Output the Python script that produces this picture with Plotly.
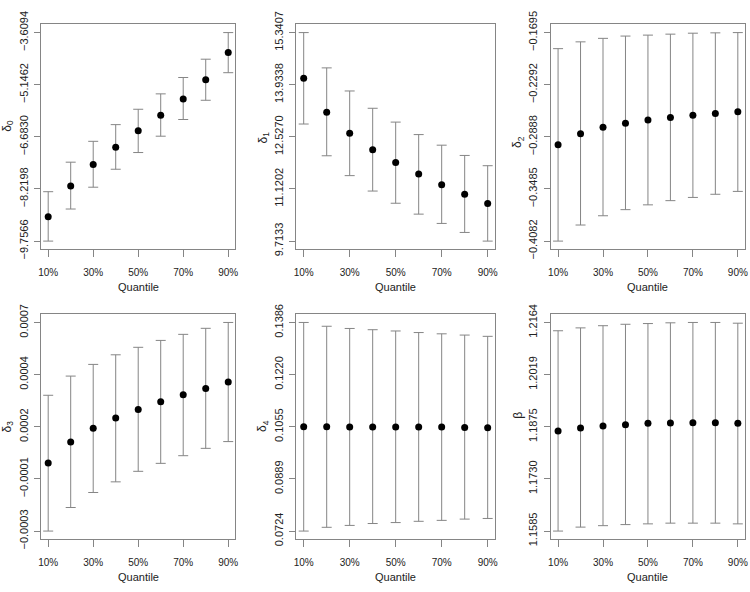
import numpy as np
import plotly.graph_objects as go

quantile_x = [0.1, 0.2, 0.3, 0.4, 0.5, 0.6, 0.7, 0.8, 0.9]
quantile_tick_x = [0.1, 0.3, 0.5, 0.7, 0.9]
quantile_tick_labels = ["10%", "30%", "50%", "70%", "90%"]

d0_est = [-9.038, -8.130, -7.496, -6.986, -6.503, -6.049, -5.567, -4.999, -4.196]
d0_lo = [-9.7566, -8.811, -8.168, -7.638, -7.146, -6.664, -6.172, -5.605, -4.792]
d0_hi = [-8.300, -7.430, -6.815, -6.323, -5.870, -5.416, -4.933, -4.394, -3.6094]
d0_ticks = ["−9.7566", "−8.2198", "−6.6830", "−5.1462", "−3.6094"]

d1_est = [14.111, 13.194, 12.622, 12.181, 11.835, 11.523, 11.237, 10.977, 10.727]
d1_lo = [12.873, 12.016, 11.480, 11.064, 10.735, 10.441, 10.190, 9.947, 9.7133]
d1_hi = [15.3407, 14.388, 13.765, 13.298, 12.925, 12.588, 12.302, 12.025, 11.748]
d1_ticks = ["9.7133", "11.1202", "12.5270", "13.9338", "15.3407"]

d2_est = [-0.2980, -0.2852, -0.2778, -0.2734, -0.2697, -0.2668, -0.2642, -0.2620, -0.2602]
d2_lo = [-0.4082, -0.3898, -0.3792, -0.3722, -0.3667, -0.3619, -0.3582, -0.3546, -0.3513]
d2_hi = [-0.1879, -0.1801, -0.1761, -0.1735, -0.1724, -0.1713, -0.1702, -0.1698, -0.1695]
d2_ticks = ["−0.4082", "−0.3485", "−0.2888", "−0.2292", "−0.1695"]

d3_est = [0.0000262, 0.000127, 0.000193, 0.000242, 0.000283, 0.000320, 0.000354, 0.000383, 0.000415]
d3_lo = [-0.000300, -0.000187, -0.000115, -0.000064, -0.0000136, 0.0000247, 0.0000614, 0.0000966, 0.000129]
d3_hi = [0.000351, 0.000443, 0.000499, 0.000545, 0.000581, 0.000614, 0.000643, 0.000672, 0.000700]
d3_ticks = ["−0.0003", "−0.0001", "0.0002", "0.0004", "0.0007"]

d4_est = [0.1055, 0.1055, 0.1054, 0.1054, 0.1054, 0.1054, 0.1054, 0.1053, 0.1052]
d4_lo = [0.0724, 0.0736, 0.0742, 0.0748, 0.0751, 0.0755, 0.0758, 0.0762, 0.0764]
d4_hi = [0.1386, 0.1374, 0.1367, 0.1363, 0.1359, 0.1354, 0.1350, 0.1346, 0.1342]
d4_ticks = ["0.0724", "0.0889", "0.1055", "0.1220", "0.1386"]

beta_est = [1.1863, 1.1871, 1.1877, 1.1880, 1.1884, 1.1885, 1.1886, 1.1886, 1.1884]
beta_lo = [1.1585, 1.1596, 1.1600, 1.1603, 1.1605, 1.1607, 1.1607, 1.1607, 1.1605]
beta_hi = [1.2141, 1.2149, 1.2155, 1.2159, 1.2161, 1.2163, 1.2164, 1.2164, 1.2162]
beta_ticks = ["1.1585", "1.1730", "1.1875", "1.2019", "1.2164"]

panel_titles = ["δ<sub>0</sub>", "δ<sub>1</sub>", "δ<sub>2</sub>",
                "δ<sub>3</sub>", "δ<sub>4</sub>", "β"]
x_title = "Quantile"

panels = [
    (d0_est, d0_lo, d0_hi, d0_ticks),
    (d1_est, d1_lo, d1_hi, d1_ticks),
    (d2_est, d2_lo, d2_hi, d2_ticks),
    (d3_est, d3_lo, d3_hi, d3_ticks),
    (d4_est, d4_lo, d4_hi, d4_ticks),
    (beta_est, beta_lo, beta_hi, beta_ticks),
]

W, H = 750, 592
# plot boxes in pixels (left, right, top, bottom)
xboxes = [(38.3, 234.3), (295.7, 496.0), (552.3, 748.0)]
yboxes = [(11.7, 246.0), (313.3, 547.7)]
ytitle_y = [117, 130, 134, 430, 430, 419]

GRAY = "#858585"
TXT = "#222222"
FONT = "Liberation Sans, Arial, Helvetica, sans-serif"

fig = go.Figure()
layout = dict(width=W, height=H, margin=dict(l=0, r=0, t=0, b=0),
              paper_bgcolor="white", plot_bgcolor="white", showlegend=False,
              font=dict(family=FONT, color=TXT))
annotations = []

xspan = quantile_x[-1] - quantile_x[0]
xr = [quantile_x[0] - 0.04 * xspan, quantile_x[-1] + 0.04 * xspan]

for i, (est, lo, hi, ticks) in enumerate(panels):
    r, c = divmod(i, 3)
    xa = "x" if i == 0 else f"x{i+1}"
    ya = "y" if i == 0 else f"y{i+1}"
    est_a = np.array(est); lo_a = np.array(lo); hi_a = np.array(hi)
    fig.add_trace(go.Scatter(
        x=quantile_x, y=est, mode="markers", xaxis=xa, yaxis=ya,
        marker=dict(color="black", size=7),
        error_y=dict(type="data", symmetric=False,
                     array=(hi_a - est_a).tolist(),
                     arrayminus=(est_a - lo_a).tolist(),
                     color=GRAY, thickness=1, width=5),
        hoverinfo="skip", cliponaxis=False))
    ymin, ymax = float(lo_a.min()), float(hi_a.max())
    yspan = ymax - ymin
    tv = np.linspace(ymin, ymax, 5).tolist()
    x0, x1 = xboxes[c]
    y0, y1 = yboxes[r]
    xdom = [x0 / W, x1 / W]
    ydom = [1 - y1 / H, 1 - y0 / H]
    xkey = "xaxis" if i == 0 else f"xaxis{i+1}"
    ykey = "yaxis" if i == 0 else f"yaxis{i+1}"
    layout[xkey] = dict(domain=xdom, range=xr, anchor=ya,
                        tickvals=quantile_tick_x, ticktext=quantile_tick_labels,
                        ticks="outside", ticklen=7, tickcolor=GRAY, tickwidth=1,
                        showline=True, mirror=True, linecolor=GRAY, linewidth=1,
                        showgrid=False, zeroline=False,
                        tickfont=dict(size=10, color=TXT, family=FONT),
                        ticklabelstandoff=7, fixedrange=True)
    layout[ykey] = dict(domain=ydom, range=[ymin - 0.04 * yspan, ymax + 0.04 * yspan],
                        anchor=xa, tickvals=tv, ticktext=ticks, tickangle=-90,
                        ticks="outside", ticklen=6, tickcolor=GRAY, tickwidth=1,
                        showline=True, mirror=True, linecolor=GRAY, linewidth=1,
                        showgrid=False, zeroline=False,
                        tickfont=dict(size=11, color=TXT, family=FONT),
                        ticklabelstandoff=2, fixedrange=True)
    # y title
    annotations.append(dict(text=panel_titles[i], x=(x0 - 33) / W, y=1 - ytitle_y[i] / H,
                            xref="paper", yref="paper", showarrow=False, textangle=-90,
                            xanchor="center", yanchor="middle",
                            font=dict(size=12, color=TXT, family=FONT)))
    # x title
    annotations.append(dict(text=x_title, x=(x0 + x1) / 2 / W, y=1 - (y1 + 39) / H,
                            xref="paper", yref="paper", showarrow=False,
                            xanchor="center", yanchor="middle",
                            font=dict(size=11, color=TXT, family=FONT)))

layout["annotations"] = annotations
fig.update_layout(**layout)
fig.write_html("out.html", config={"displayModeBar": False, "staticPlot": True},
               post_script="document.body.style.margin='0px';document.body.style.overflow='hidden';")
